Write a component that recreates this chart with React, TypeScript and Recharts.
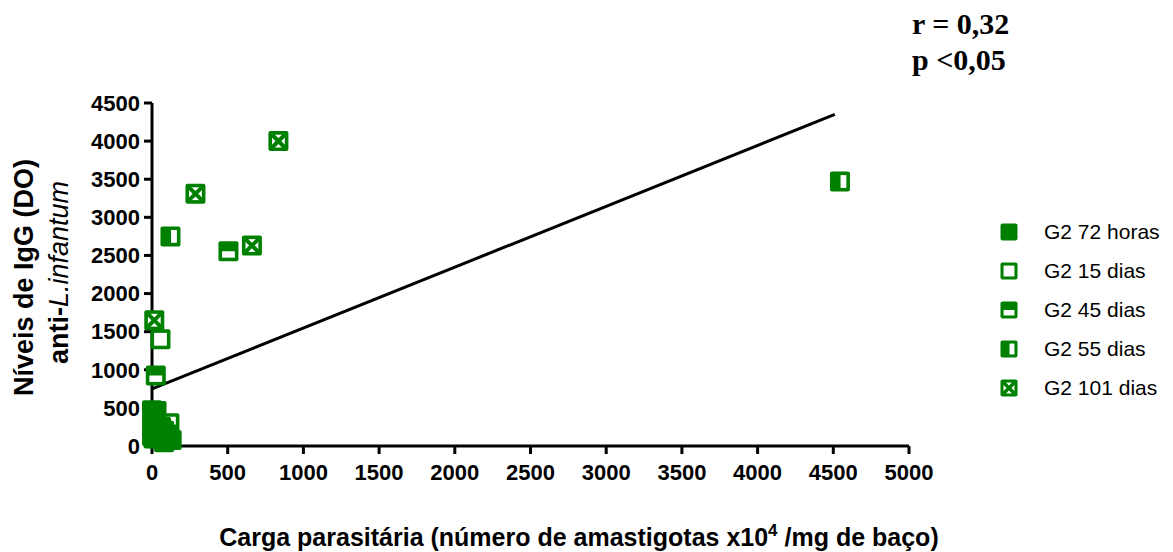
import { ScatterChart, Scatter, XAxis, YAxis, ReferenceLine, Label } from "recharts";

const GREEN = "#008000";
const FONT = "'Liberation Sans', Arial, sans-serif";

// carga parasitária (x) vs IgG (y)
const g2_72h = [
  { x: 0, y: 470 },
  { x: 30, y: 460 },
  { x: 0, y: 300 },
  { x: 20, y: 330 },
  { x: 0, y: 130 },
  { x: 40, y: 100 },
  { x: 90, y: 100 },
  { x: 130, y: 80 },
  { x: 110, y: 150 },
  { x: 60, y: 250 },
  { x: 20, y: 200 },
  { x: 80, y: 50 },
];
const g2_15d = [
  { x: 56, y: 1400 },
  { x: 115, y: 300 },
  { x: 40, y: 250 },
];
const g2_45d = [
  { x: 505, y: 2555 },
  { x: 25, y: 925 },
  { x: 70, y: 150 },
];
const g2_55d = [
  { x: 122, y: 2750 },
  { x: 4544, y: 3470 },
  { x: 80, y: 200 },
];
const g2_101d = [
  { x: 835, y: 4000 },
  { x: 287, y: 3310 },
  { x: 660, y: 2630 },
  { x: 15, y: 1650 },
  { x: 10, y: 100 },
];

const regression = [
  { x: 0, y: 750 },
  { x: 4510, y: 4350 },
];

const xTicks = [0, 500, 1000, 1500, 2000, 2500, 3000, 3500, 4000, 4500, 5000];
const yTicks = [0, 500, 1000, 1500, 2000, 2500, 3000, 3500, 4000, 4500];

type Kind = "filled" | "open" | "top" | "left" | "cross";

const SERIES: { name: string; data: { x: number; y: number }[]; kind: Kind }[] = [
  { name: "G2 72 horas", data: g2_72h, kind: "filled" },
  { name: "G2 15 dias", data: g2_15d, kind: "open" },
  { name: "G2 45 dias", data: g2_45d, kind: "top" },
  { name: "G2 55 dias", data: g2_55d, kind: "left" },
  { name: "G2 101 dias", data: g2_101d, kind: "cross" },
];

// filled squares drawn last so the cluster near zero reads as a solid block
const DRAW_ORDER = [...SERIES.slice(1), SERIES[0]];

function Marker({ cx, cy, kind, s }: { cx: number; cy: number; kind: Kind; s: number }) {
  const x0 = cx - s / 2;
  const y0 = cy - s / 2;
  const i = s * 0.18;
  return (
    <g>
      <rect x={x0} y={y0} width={s} height={s} rx={2} fill={GREEN} />
      {kind === "open" && (
        <rect x={x0 + i} y={y0 + i} width={s - 2 * i} height={s - 2 * i} fill="#fff" />
      )}
      {kind === "top" && (
        <rect x={x0 + i} y={y0 + s * 0.5} width={s - 2 * i} height={s * 0.5 - i} fill="#fff" />
      )}
      {kind === "left" && (
        <rect x={x0 + s * 0.53} y={y0 + i} width={s * 0.47 - i} height={s - 2 * i} fill="#fff" />
      )}
      {kind === "cross" && (
        <g>
          <rect x={x0 + i} y={y0 + i} width={s - 2 * i} height={s - 2 * i} fill="#fff" />
          <line x1={x0 + i} y1={y0 + i} x2={x0 + s - i} y2={y0 + s - i} stroke={GREEN} strokeWidth={s * 0.2} />
          <line x1={x0 + s - i} y1={y0 + i} x2={x0 + i} y2={y0 + s - i} stroke={GREEN} strokeWidth={s * 0.2} />
        </g>
      )}
    </g>
  );
}

function LegendBox() {
  return (
    <div
      style={{
        position: "absolute",
        left: 1000,
        top: 212,
        fontFamily: FONT,
        fontSize: 21,
        color: "#000",
      }}
    >
      {SERIES.map((s) => (
        <div key={s.name} style={{ display: "flex", alignItems: "center", height: 39 }}>
          <svg width={18} height={18} style={{ marginRight: 26 }}>
            <Marker cx={9} cy={9} kind={s.kind} s={17} />
          </svg>
          <span>{s.name}</span>
        </div>
      ))}
    </div>
  );
}

function YTitle(props: any) {
  const vb = props.viewBox;
  const cy = vb.y + vb.height / 2;
  return (
    <g fontFamily={FONT} fill="#000">
      <text transform={`translate(33,${cy + 3}) rotate(-90)`} textAnchor="middle" fontWeight="bold" fontSize={27}>
        Níveis de IgG (DO)
      </text>
      <text transform={`translate(68,${cy - 2}) rotate(-90)`} textAnchor="middle" fontSize={27}>
        <tspan fontWeight="bold">anti-</tspan>
        <tspan fontStyle="italic">L.infantum</tspan>
      </text>
    </g>
  );
}

function XTitle() {
  return (
    <text x={579} y={546} textAnchor="middle" fontFamily={FONT} fontWeight="bold" fontSize={25} fill="#000">
      Carga parasitária (número de amastigotas x10
      <tspan dy={-10} fontSize={17}>4</tspan>
      <tspan dy={10}> /mg de baço)</tspan>
    </text>
  );
}

export default function App() {
  const tickStyle = { fill: "#000", fontSize: 22, fontWeight: "bold", fontFamily: FONT };
  return (
    <div style={{ position: "relative", width: 1173, height: 552, background: "#fff" }}>
      <style>{`body{margin:0}`}</style>
      <ScatterChart width={1173} height={552} margin={{ top: 103, right: 264, left: 0, bottom: 0 }}>
        <XAxis
          type="number"
          dataKey="x"
          domain={[0, 5000]}
          ticks={xTicks}
          interval={0}
          height={106}
          tick={tickStyle}
          tickSize={8}
          tickMargin={10}
          axisLine={{ stroke: "#000", strokeWidth: 3 }}
          tickLine={{ stroke: "#000", strokeWidth: 3 }}
        >
          <Label content={<XTitle />} />
        </XAxis>
        <YAxis
          type="number"
          dataKey="y"
          domain={[0, 4500]}
          ticks={yTicks}
          interval={0}
          width={152}
          tick={tickStyle}
          tickSize={8}
          tickMargin={4}
          axisLine={{ stroke: "#000", strokeWidth: 3 }}
          tickLine={{ stroke: "#000", strokeWidth: 3 }}
        >
          <Label content={YTitle} />
        </YAxis>
        <ReferenceLine
          segment={regression}
          stroke="#000"
          strokeWidth={3}
          ifOverflow="visible"
        />
        {DRAW_ORDER.map((s) => (
          <Scatter
            key={s.name}
            name={s.name}
            data={s.data}
            fill={GREEN}
            isAnimationActive={false}
            shape={(p: any) => <Marker cx={p.cx} cy={p.cy} kind={s.kind} s={20} />}
          />
        ))}
      </ScatterChart>
      <LegendBox />
      <div
        style={{
          position: "absolute",
          left: 912,
          top: 6,
          fontFamily: "'Liberation Serif', 'Times New Roman', serif",
          fontWeight: "bold",
          fontSize: 30,
          lineHeight: "36px",
          color: "#000",
        }}
      >
        <div>r = 0,32</div>
        <div>p &lt;0,05</div>
      </div>
    </div>
  );
}
